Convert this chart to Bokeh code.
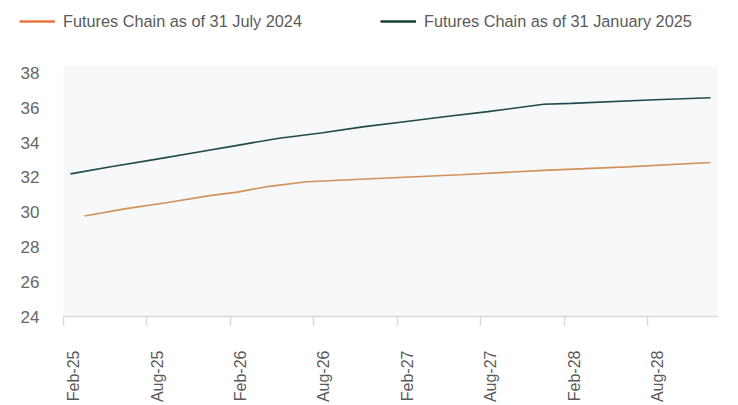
import math
from bokeh.plotting import figure
from bokeh.models import Range1d, FixedTicker, Legend, LegendItem, LinearAxis, BoxAnnotation
from bokeh.embed import file_html
from bokeh.resources import INLINE

# ---- data ----
months = [
    "Feb-25", "Mar-25", "Apr-25", "May-25", "Jun-25", "Jul-25", "Aug-25", "Sep-25", "Oct-25", "Nov-25", "Dec-25",
    "Jan-26", "Feb-26", "Mar-26", "Apr-26", "May-26", "Jun-26", "Jul-26", "Aug-26", "Sep-26", "Oct-26", "Nov-26", "Dec-26",
    "Jan-27", "Feb-27", "Mar-27", "Apr-27", "May-27", "Jun-27", "Jul-27", "Aug-27", "Sep-27", "Oct-27", "Nov-27", "Dec-27",
    "Jan-28", "Feb-28", "Mar-28", "Apr-28", "May-28", "Jun-28", "Jul-28", "Aug-28", "Sep-28", "Oct-28", "Nov-28", "Dec-28",
]
tick_labels = ["Feb-25", "Aug-25", "Feb-26", "Aug-26", "Feb-27", "Aug-27", "Feb-28", "Aug-28"]
y_ticks = [24, 26, 28, 30, 32, 34, 36, 38]
y_min, y_max = 24, 38.43

jul24_label = "Futures Chain as of 31 July 2024"
jul24_months = ["Mar-25", "Jun-25", "Sep-25", "Dec-25", "Feb-26", "Apr-26", "Jul-26",
                "Dec-26", "Jun-27", "Dec-27", "Jun-28", "Dec-28"]
jul24_values = [29.78, 30.20, 30.55, 30.95, 31.15, 31.45, 31.75,
                31.93, 32.15, 32.40, 32.60, 32.85]

jan25_label = "Futures Chain as of 31 January 2025"
jan25_months = ["Feb-25", "May-25", "Aug-25", "Nov-25", "Feb-26", "May-26", "Aug-26", "Nov-26",
                "Feb-27", "May-27", "Aug-27", "Dec-27", "Feb-28", "Aug-28", "Dec-28"]
jan25_values = [32.20, 32.62, 33.02, 33.43, 33.84, 34.25, 34.55, 34.90,
                35.20, 35.50, 35.78, 36.20, 36.25, 36.46, 36.58]

# ---- layout / styles ----
W, H = 738, 405
PLOT_LEFT, PLOT_TOP, PLOT_RIGHT, PLOT_BOTTOM = 63, 65, 717, 316   # px of the shaded plot area
ORANGE_LINE = "#d4915a"
ORANGE_KEY = "#e8763e"
TEAL_LINE = "#1f4c4a"
TEAL_KEY = "#173f36"
BG = "#f6f8f9"
AXIS_GREY = "#d9d9d9"
FONT = "Liberation Sans"
LABEL_SHIFT = 0.72   # label anchor inside the month slot

n = len(months)
px_x = (PLOT_RIGHT - PLOT_LEFT) / n
px_y = (PLOT_BOTTOM - PLOT_TOP) / (y_max - y_min)

def xpos(labels):
    return [months.index(m) + 0.5 for m in labels]

# the frame covers the whole canvas; the shaded plot area is a box inside it
p = figure(
    width=W, height=H,
    x_range=Range1d(-PLOT_LEFT / px_x, n + (W - PLOT_RIGHT) / px_x),
    y_range=Range1d(y_min - (H - PLOT_BOTTOM) / px_y, y_min + PLOT_BOTTOM / px_y),
    output_backend="svg", toolbar_location=None,
    x_axis_location=None, y_axis_location=None,
    min_border=0,
)
p.background_fill_color = "white"
p.border_fill_color = "white"
p.outline_line_color = None
for g in p.grid:
    g.visible = False

p.add_layout(BoxAnnotation(left=0, right=n, bottom=y_min, top=y_max,
                           fill_color=BG, fill_alpha=1, line_color=None, level="underlay"))

ya = LinearAxis(fixed_location=0, ticker=FixedTicker(ticks=y_ticks))
ya.axis_line_color = None
ya.major_tick_out = 0
ya.major_tick_in = 0
ya.minor_tick_out = 0
ya.minor_tick_in = 0
ya.major_label_standoff = 24
ya.major_label_text_font = FONT
ya.major_label_text_font_size = "17px"
ya.major_label_text_color = "#666666"
p.add_layout(ya, "left")

tick_idx = [months.index(t) for t in tick_labels]
xa = LinearAxis(fixed_location=y_min)
xa.bounds = (0, n)
xa.ticker = FixedTicker(ticks=[i + LABEL_SHIFT for i in tick_idx], minor_ticks=tick_idx)
xa.major_label_overrides = {i + LABEL_SHIFT: months[i] for i in tick_idx}
xa.axis_line_color = AXIS_GREY
xa.axis_line_width = 1.5
xa.major_tick_out = 0
xa.major_tick_in = 0
xa.minor_tick_out = 9
xa.minor_tick_in = 0
xa.minor_tick_line_color = AXIS_GREY
xa.minor_tick_line_width = 1.5
xa.major_label_orientation = math.pi / 2
xa.major_label_standoff = 25
xa.major_label_text_font = FONT
xa.major_label_text_font_size = "16px"
xa.major_label_text_color = "#595959"
p.add_layout(xa, "below")

p.line(xpos(jul24_months), jul24_values, line_color=ORANGE_LINE, line_width=1.6)
p.line(xpos(jan25_months), jan25_values, line_color=TEAL_LINE, line_width=1.6)

# legend keys (hidden renderers, drawn only in the legend)
k1 = p.line(xpos(jul24_months), jul24_values, line_color=ORANGE_KEY, line_width=2.5, visible=False)
k2 = p.line(xpos(jan25_months), jan25_values, line_color=TEAL_KEY, line_width=2.5, visible=False)
legend = Legend(
    items=[LegendItem(label=jul24_label, renderers=[k1]),
           LegendItem(label=jan25_label, renderers=[k2])],
    location=(19, H - 31), orientation="horizontal",
    glyph_width=36, glyph_height=20, label_standoff=8, spacing=78,
    padding=0, margin=0, border_line_color=None, background_fill_alpha=0,
    inactive_fill_alpha=0,
    label_text_font=FONT, label_text_font_size="16.3px", label_text_color="#5a5a5a",
)
p.add_layout(legend)

open("out.html", "w").write(file_html(p, INLINE))
